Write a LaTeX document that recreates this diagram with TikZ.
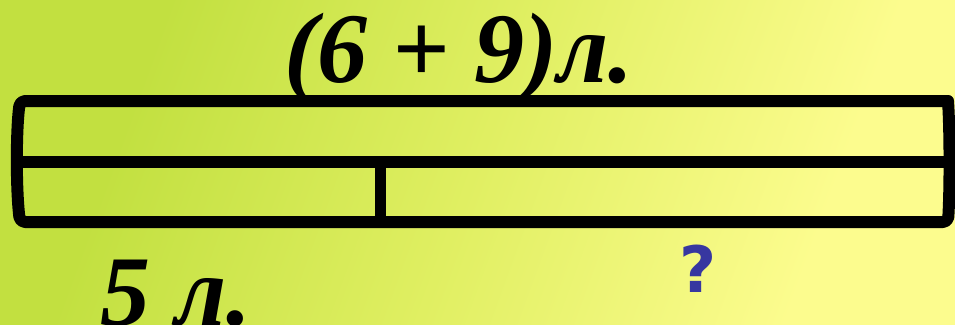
\documentclass[tikz,border=0pt]{standalone}
\usepackage{fontspec}
\setmainfont{Liberation Serif}
\newfontfamily\qfont{DejaVu Sans}
\definecolor{bgA}{RGB}{194,224,64}
\definecolor{bgB}{RGB}{224,239,98}
\definecolor{bgC}{RGB}{252,252,142}
\definecolor{bgD}{RGB}{240,246,122}
\definecolor{qblue}{RGB}{55,55,160}
\pgfdeclarehorizontalshading{bgsh}{100bp}{color(0bp)=(bgA); color(28bp)=(bgA); color(50bp)=(bgB); color(72bp)=(bgC); color(82bp)=(bgC); color(100bp)=(bgD)}
\tikzset{
  barline/.style={line width=12pt, line join=round, line cap=round},
  numtext/.style={font=\fontsize{100}{100}\selectfont\bfseries\itshape, inner sep=0pt, text=black},
  qtext/.style={font=\qfont\fontsize{64}{64}\selectfont\bfseries, inner sep=0pt, text=qblue}
}
\begin{document}
\begin{tikzpicture}[x=1pt,y=-1pt]
\useasboundingbox (0,0) rectangle (955,324);
\shade[shading=bgsh, shading angle=-20] (0,0) rectangle (955,324);
\clip (0,0) rectangle (955,324);
% outer bar
\coordinate (tl) at (20,101);
\coordinate (tr) at (948,101);
\coordinate (bl) at (20,222);
\coordinate (br) at (948,222);
\draw[barline, rounded corners=5pt] (tr) -- (tl) .. controls (16,130) and (16,190) .. (bl) -- (br) .. controls (950,190) and (950,130) .. (tr);
\coordinate (ml) at (18,162);
\coordinate (mr) at (949,162);
\draw[barline, line cap=butt] (ml) -- (mr);
\coordinate (dt) at (380,162);
\coordinate (db) at (380,222);
\draw[line width=11pt] (dt) -- (db);
\node[numtext, anchor=base] (total) at (459,82) {(6 + 9)л.};
\node[numtext, anchor=base west] (part) at (100,325) {5 л.};
\node[qtext, anchor=base] (q) at (698,292) {?};
\end{tikzpicture}
\end{document}
